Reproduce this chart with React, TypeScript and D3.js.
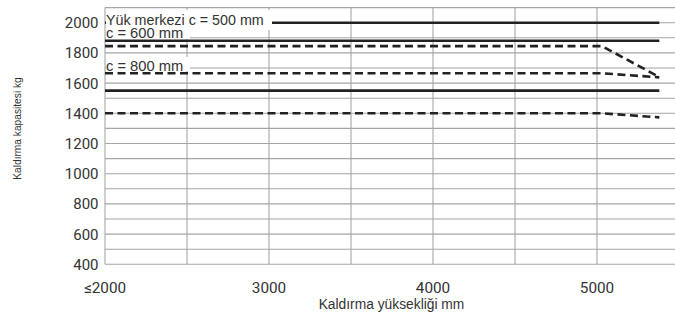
import React from 'react';
import * as d3 from 'd3';

// lift heights (mm) where the curves change
const heights = [2000, 5030, 5380];

// capacity series (kg), one per line in the chart
const c500Solid = [2000, 2000, 2000];
const c600Solid = [1880, 1880, 1880];
const c600Dashed = [1845, 1845, 1640];
const c800Dashed = [1665, 1665, 1638];
const c800Solid = [1550, 1550, 1550];
const lowDashed = [1400, 1400, 1373];

const xTicks = [2000, 3000, 4000, 5000];
const xTickLabels = ['≤2000', '3000', '4000', '5000'];
const yTicks = [400, 600, 800, 1000, 1200, 1400, 1600, 1800, 2000];

const W = 675;
const H = 316;

const App = () => {
    const x = d3.scaleLinear().domain([2000, 5500]).range([105, 679]);
    const y = d3.scaleLinear().domain([400, 2100]).range([264.3, 7.6]);

    const line = d3.line<number>()
        .x((d, i) => x(heights[i]))
        .y(d => y(d));

    const series = [
        { v: c500Solid, dash: false },
        { v: c600Solid, dash: false },
        { v: c600Dashed, dash: true },
        { v: c800Dashed, dash: true },
        { v: c800Solid, dash: false },
        { v: lowDashed, dash: true },
    ];

    const hGrid = d3.range(400, 2101, 100);
    const vGrid = d3.range(2000, 5501, 500);
    const tickFont = 'Roboto, sans-serif';
    const textFont = "'Liberation Sans', Arial, sans-serif";

    return (
        <svg width={W} height={H} style={{ position: 'absolute', left: 0, top: 0, background: '#fff' }}>
            {/* grid */}
            <g stroke="#a6a6a6" strokeWidth={1.1}>
                {hGrid.map(v => (
                    <line key={'h' + v} x1={x(2000)} x2={W} y1={y(v)} y2={y(v)} />
                ))}
                {vGrid.map(v => (
                    <line key={'v' + v} x1={x(v)} x2={x(v)} y1={y(2100)} y2={y(400)} />
                ))}
            </g>

            {/* curves */}
            <g fill="none" stroke="#222" strokeWidth={2.6}>
                {series.map((s, i) => (
                    <path key={i} d={line(s.v) || ''} strokeDasharray={s.dash ? '8,4.5' : undefined} />
                ))}
            </g>

            {/* label boxes */}
            <g fill="#fff">
                <rect x={106} y={10} width={166} height={20} />
                <rect x={106} y={29} width={84} height={10} />
                <rect x={106} y={57} width={84} height={14} />
            </g>
            <g fontFamily={textFont} fill="#333">
                <text x={106} y={24.7} fontSize={14.3}>Yük merkezi c = 500 mm</text>
                <text x={106} y={37.8} fontSize={14.7}>c = 600 mm</text>
                <text x={106} y={71} fontSize={14.7}>c = 800 mm</text>
            </g>

            {/* y ticks */}
            <g fontFamily={tickFont} fontSize={15} fill="#333" textAnchor="end">
                {yTicks.map(v => (
                    <text key={v} x={98.5} y={y(v)} dy="0.36em">{v}</text>
                ))}
            </g>

            {/* x ticks */}
            <g fontFamily={tickFont} fontSize={15.3} fill="#333" textAnchor="middle">
                {xTicks.map((v, i) => (
                    <text key={v} x={x(v)} y={292.5}>{xTickLabels[i]}</text>
                ))}
            </g>

            <text x={391.5} y={309.3} textAnchor="middle" fontFamily={textFont} fontSize={13.8} fill="#333">
                Kaldırma yüksekliği mm
            </text>
            <text transform={`translate(21,128.5) rotate(-90)`} textAnchor="middle"
                fontFamily={textFont} fontSize={10.2} fill="#333">
                Kaldırma kapasitesi kg
            </text>
        </svg>
    );
};

export default App;
